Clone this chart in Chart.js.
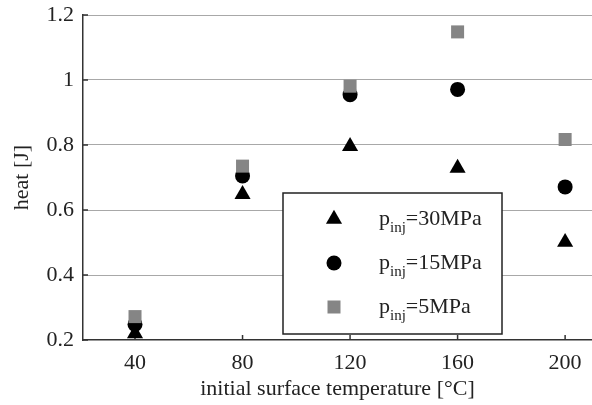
<!DOCTYPE html>
<html>
<head>
<meta charset="utf-8">
<script src="https://cdn.jsdelivr.net/npm/chart.js@4/dist/chart.umd.min.js"></script>
<style>
  html, body { margin: 0; padding: 0; background: #fff; }
  #wrap { width: 592px; height: 405px; position: relative; }
</style>
</head>
<body>
<div id="wrap"><canvas id="c"></canvas></div>
<script>
// ── data ─────────────────────────────────────────────
const temps = [40, 80, 120, 160, 200];
const heat30 = [0.22, 0.648, 0.796, 0.729, 0.501];
const heat15 = [0.248, 0.705, 0.955, 0.971, 0.671];
const heat5  = [0.272, 0.735, 0.981, 1.148, 0.817];
const seriesLabels = ["30MPa", "15MPa", "5MPa"];
const xTicks = [40, 80, 120, 160, 200];
const yTicks = [0.2, 0.4, 0.6, 0.8, 1.0, 1.2];

const FONT = "'Liberation Serif', 'DejaVu Serif', serif";
const INK = "#222";

const toPts = (ys) => temps.map((t, i) => ({ x: t, y: ys[i] }));

// ── inward tick marks ─────────────────────────────────
const innerTicks = {
  id: "innerTicks",
  beforeDatasetsDraw(chart) {
    const { ctx, chartArea, scales } = chart;
    ctx.save();
    ctx.strokeStyle = "#333";
    ctx.lineWidth = 1.5;
    ctx.beginPath();
    xTicks.forEach(v => {
      const px = scales.x.getPixelForValue(v);
      ctx.moveTo(px, chartArea.bottom);
      ctx.lineTo(px, chartArea.bottom - 5);
    });
    yTicks.forEach(v => {
      const py = scales.y.getPixelForValue(v);
      ctx.moveTo(chartArea.left, py);
      ctx.lineTo(chartArea.left + 5, py);
    });
    ctx.stroke();
    ctx.restore();
  }
};

// ── boxed legend with subscript ───────────────────────
const boxLegend = {
  id: "boxLegend",
  afterDatasetsDraw(chart) {
    const { ctx } = chart;
    const bx = 283, by = 193, bw = 219, bh = 141;
    ctx.save();
    ctx.fillStyle = "#fff";
    ctx.fillRect(bx, by, bw, bh);
    ctx.strokeStyle = "#222";
    ctx.lineWidth = 1.5;
    ctx.strokeRect(bx, by, bw, bh);

    chart.data.datasets.forEach((ds, i) => {
      const cy = 219 + i * 44;
      ctx.fillStyle = ds.backgroundColor;
      ctx.strokeStyle = ds.backgroundColor;
      Chart.helpers.drawPoint(ctx, {
        pointStyle: ds.pointStyle, radius: ds.pointRadius, rotation: 0, borderWidth: 0
      }, 334, cy);

      ctx.fillStyle = INK;
      ctx.textBaseline = "alphabetic";
      ctx.textAlign = "left";
      let x = 379;
      ctx.font = "22px " + FONT;
      ctx.fillText("p", x, cy + 6);
      x += ctx.measureText("p").width;
      ctx.font = "15px " + FONT;
      ctx.fillText("inj", x, cy + 13);
      x += ctx.measureText("inj").width;
      ctx.font = "22px " + FONT;
      ctx.fillText("=" + seriesLabels[i], x, cy + 6);
    });
    ctx.restore();
  }
};

new Chart(document.getElementById("c"), {
  type: "scatter",
  data: {
    datasets: [
      {
        label: seriesLabels[0],
        data: toPts(heat30),
        pointStyle: "triangle",
        pointRadius: 9.3,
        pointHoverRadius: 9.3,
        backgroundColor: "#000",
        borderColor: "#000",
        borderWidth: 0,
        order: 2,
      },
      {
        label: seriesLabels[1],
        data: toPts(heat15),
        pointStyle: "circle",
        pointRadius: 7.5,
        pointHoverRadius: 7.5,
        backgroundColor: "#000",
        borderColor: "#000",
        borderWidth: 0,
        order: 1,
      },
      {
        label: seriesLabels[2],
        data: toPts(heat5),
        pointStyle: "rect",
        pointRadius: 9.2,
        pointHoverRadius: 9.2,
        backgroundColor: "#858585",
        borderColor: "#858585",
        borderWidth: 0,
        order: 0,
      },
    ],
  },
  options: {
    responsive: true,
    maintainAspectRatio: false,
    animation: false,
    events: [],
    layout: { autoPadding: false, padding: { top: 15, right: 0, left: 0, bottom: 0 } },
    plugins: {
      legend: { display: false },
      tooltip: { enabled: false },
    },
    scales: {
      x: {
        type: "linear",
        min: 20.65,
        max: 210,
        afterBuildTicks: (s) => { s.ticks = xTicks.map(v => ({ value: v })); },
        afterFit: (s) => {
          s.height = 65;
          s.paddingLeft = 0; s.paddingRight = 0;
        },
        grid: { display: false, drawTicks: false },
        border: { display: true, color: "#333", width: 1.5 },
        ticks: {
          color: INK,
          padding: 10,
          maxRotation: 0,
          font: { family: FONT, size: 22 },
        },
        title: {
          display: true,
          text: "initial surface temperature [°C]",
          color: INK,
          font: { family: FONT, size: 22 },
          padding: { top: 0, bottom: 3 },
        },
      },
      y: {
        type: "linear",
        min: 0.2,
        max: 1.2,
        afterBuildTicks: (s) => { s.ticks = yTicks.map(v => ({ value: v })); },
        afterFit: (s) => {
          s.width = 83;
          s.paddingTop = 0; s.paddingBottom = 0;
        },
        grid: {
          drawTicks: false,
          color: (c) => (c.tick && Math.abs(c.tick.value - 0.2) < 1e-6 ? "rgba(0,0,0,0)" : "#a8a8a8"),
          lineWidth: 1,
          borderDash: [1, 2],
        },
        border: { display: true, color: "#333", width: 1.5 },
        ticks: {
          color: INK,
          padding: 9,
          font: { family: FONT, size: 22 },
          callback: (v) => String(+Number(v).toFixed(1)),
        },
        title: {
          display: true,
          text: "heat [J]",
          color: INK,
          font: { family: FONT, size: 22 },
          padding: { top: 9, bottom: 9 },
        },
      },
    },
  },
  plugins: [innerTicks, boxLegend],
});
</script>
</body>
</html>
